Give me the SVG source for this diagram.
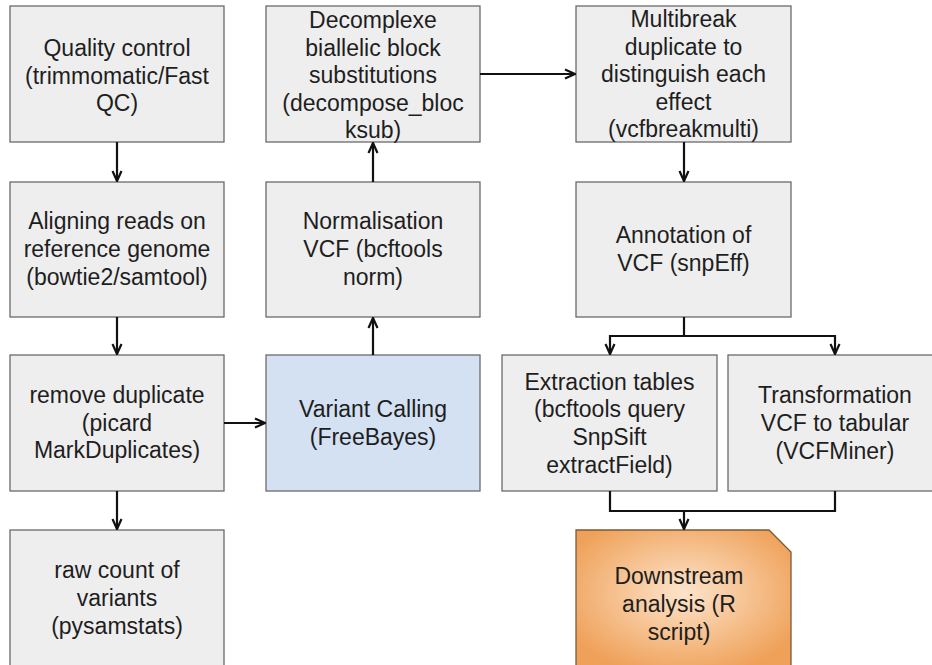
<svg xmlns="http://www.w3.org/2000/svg" width="932" height="665" viewBox="0 0 932 665">
<defs>
<style>
.box{fill:#eeeeee;stroke:#6b6b6b;stroke-width:1.3}
.blue{fill:#d3e1f3;stroke:#6b6b6b;stroke-width:1.3}
.orange{fill:url(#og);stroke:#7a5a3a;stroke-width:1.3}
text{font-family:"Liberation Sans",Arial,sans-serif;font-size:23px;fill:#1e1e1e;text-anchor:middle}
.conn path{fill:none;stroke:#111111;stroke-width:2.2}
</style>
<radialGradient id="og" cx="50%" cy="45%" r="60%">
<stop offset="0" stop-color="#fde4cb"/>
<stop offset="1" stop-color="#efa159"/>
</radialGradient>
<marker id="arr" viewBox="0 0 12 12" refX="11" refY="6" markerWidth="12" markerHeight="12" markerUnits="userSpaceOnUse" orient="auto">
<path d="M1,1.5 L11,6 L1,10.5" fill="none" stroke="#111111" stroke-width="2.2"/>
</marker>
</defs>
<rect width="932" height="665" fill="#ffffff"/>

<g id="qc"><rect class="box" x="10" y="6" width="214" height="136"/>
<text x="117" y="56">Quality control</text><text x="117" y="83.5">(trimmomatic/Fast</text><text x="117" y="111">QC)</text></g>

<g id="align"><rect class="box" x="10" y="182" width="214" height="135"/>
<text x="117" y="229">Aligning reads on</text><text x="117" y="257">reference genome</text><text x="117" y="285">(bowtie2/samtool)</text></g>

<g id="dedup"><rect class="box" x="10" y="355" width="214" height="136"/>
<text x="117" y="403">remove duplicate</text><text x="117" y="431">(picard</text><text x="117" y="458">MarkDuplicates)</text></g>

<g id="rawcount"><rect class="box" x="10" y="530" width="214" height="140"/>
<text x="117" y="578">raw count of</text><text x="117" y="606">variants</text><text x="117" y="634">(pysamstats)</text></g>

<g id="decomplexe"><rect class="box" x="266" y="6" width="214" height="136"/>
<text x="373" y="28">Decomplexe</text><text x="373" y="55.5">biallelic block</text><text x="373" y="83">substitutions</text><text x="373" y="110.5">(decompose_bloc</text><text x="373" y="138">ksub)</text></g>

<g id="norm"><rect class="box" x="266" y="182" width="214" height="135"/>
<text x="373" y="229">Normalisation</text><text x="373" y="257">VCF (bcftools</text><text x="373" y="285">norm)</text></g>

<g id="varcall"><rect class="blue" x="266" y="355" width="214" height="136"/>
<text x="373" y="417">Variant Calling</text><text x="373" y="445">(FreeBayes)</text></g>

<g id="multibreak"><rect class="box" x="576" y="6" width="215" height="136"/>
<text x="683.5" y="27">Multibreak</text><text x="683.5" y="54.5">duplicate to</text><text x="683.5" y="82">distinguish each</text><text x="683.5" y="109.5">effect</text><text x="683.5" y="137">(vcfbreakmulti)</text></g>

<g id="annot"><rect class="box" x="576" y="182" width="215" height="135"/>
<text x="683.5" y="243">Annotation of</text><text x="683.5" y="271">VCF (snpEff)</text></g>

<g id="extract"><rect class="box" x="502" y="355" width="215" height="136"/>
<text x="609.5" y="390">Extraction tables</text><text x="609.5" y="417">(bcftools query</text><text x="609.5" y="445">SnpSift</text><text x="609.5" y="473">extractField)</text></g>

<g id="transform"><rect class="box" x="728" y="355" width="214" height="136"/>
<text x="835" y="403">Transformation</text><text x="835" y="431">VCF to tabular</text><text x="835" y="459">(VCFMiner)</text></g>

<g id="downstream"><path class="orange" d="M576,530 H769 L791,552 V670 H576 Z"/>
<text x="679" y="584">Downstream</text><text x="679" y="612">analysis (R</text><text x="679" y="640">script)</text></g>

<g class="conn" id="connectors">
<path d="M117,142 V181" marker-end="url(#arr)"/>
<path d="M117,317 V354" marker-end="url(#arr)"/>
<path d="M117,491 V529" marker-end="url(#arr)"/>
<path d="M224,423 H265" marker-end="url(#arr)"/>
<path d="M373,355 V318" marker-end="url(#arr)"/>
<path d="M373,182 V143" marker-end="url(#arr)"/>
<path d="M480,74 H575" marker-end="url(#arr)"/>
<path d="M684,142 V181" marker-end="url(#arr)"/>
<path d="M684,317 V336 H610 V354" marker-end="url(#arr)"/>
<path d="M684,336 H835 V354" marker-end="url(#arr)"/>
<path d="M610,491 V511 H684 V529" marker-end="url(#arr)"/>
<path d="M835,491 V511 H684"/>
</g>
</svg>
